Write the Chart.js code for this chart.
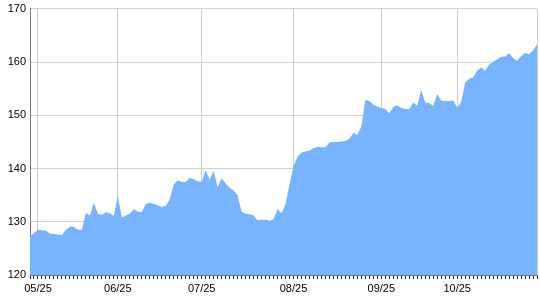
<!DOCTYPE html>
<html>
<head>
<meta charset="utf-8">
<script src="https://cdn.jsdelivr.net/npm/chart.js@4/dist/chart.umd.min.js"></script>
<style>
  html, body { margin: 0; padding: 0; background: #fff; }
  #wrap { width: 540px; height: 300px; }
</style>
</head>
<body>
<div id="wrap"><canvas id="chart"></canvas></div>
<script>
// valores (um por sessão)
const values = [
  127.2, 127.9, 128.5, 128.4, 128.3, 127.8, 127.7, 127.6, 127.5, 128.5,
  129.1, 129.0, 128.5, 128.5, 131.7, 131.2, 133.6, 131.5, 131.3, 131.8,
  131.6, 131.1, 134.9, 130.8, 131.2, 131.5, 132.4, 131.9, 131.8, 133.4,
  133.6, 133.4, 133.1, 132.8, 133.0, 134.2, 137.0, 137.8, 137.5, 137.5,
  138.3, 138.0, 137.6, 137.5, 139.7, 137.9, 139.6, 136.5, 138.2, 137.2,
  136.4, 135.9, 135.0, 131.9, 131.5, 131.4, 131.2, 130.3, 130.4, 130.4,
  130.2, 130.5, 132.4, 131.6, 133.3, 137.0, 140.4, 142.2, 143.0, 143.2,
  143.4, 143.8, 144.1, 144.0, 144.0, 144.9, 145.0, 145.0, 145.1, 145.2,
  145.6, 146.7, 146.3, 147.9, 152.9, 152.7, 152.0, 151.6, 151.4, 151.2,
  150.4, 151.6, 151.9, 151.4, 151.2, 151.2, 152.4, 151.8, 154.8, 152.4,
  152.3, 151.8, 154.0, 152.8, 152.7, 152.7, 152.8, 151.5, 152.4, 156.2,
  156.9, 157.1, 158.4, 159.0, 158.4, 159.5, 160.1, 160.5, 161.0, 161.0,
  161.7, 160.8, 160.2, 161.1, 161.7, 161.5, 162.2, 163.3
];

// rótulos do eixo x e a sessão onde cada um aparece
const tickLabels = ['05/25', '06/25', '07/25', '08/25', '09/25', '10/25'];
const tickIndex = [2, 22, 43, 66, 88, 107];

const yTicks = [120, 130, 140, 150, 160, 170];

const categories = values.map(function(v, i) {
  const k = tickIndex.indexOf(i);
  return k >= 0 ? tickLabels[k] : '';
});

const FONT = { family: 'Liberation Sans, Arial, sans-serif', size: 11 };

new Chart(document.getElementById('chart'), {
  type: 'line',
  data: {
    labels: categories,
    datasets: [{
      data: values,
      fill: 'start',
      backgroundColor: '#78b3ff',
      borderColor: '#78b3ff',
      borderWidth: 0,
      pointRadius: 0,
      tension: 0
    }]
  },
  options: {
    responsive: true,
    maintainAspectRatio: false,
    animation: false,
    layout: { padding: { top: 4, right: 1, left: 0, bottom: 0 } },
    plugins: {
      legend: { display: false },
      tooltip: { enabled: false }
    },
    scales: {
      x: {
        type: 'category',
        offset: false,
        border: { color: '#777', width: 1 },
        grid: {
          color: function(ctx) {
            const i = ctx.index;
            return (categories[i] !== '' || i === values.length - 1) ? '#cfcfcf' : 'rgba(0,0,0,0)';
          },
          tickColor: '#222',
          tickLength: 4,
          drawTicks: true
        },
        ticks: {
          autoSkip: false,
          maxRotation: 0,
          minRotation: 0,
          padding: 3,
          color: '#000',
          font: FONT,
          callback: function(val, i) { return categories[i]; }
        },
        afterFit: function(scale) { scale.height = 25; }
      },
      y: {
        min: yTicks[0],
        max: yTicks[yTicks.length - 1],
        border: { color: '#777', width: 1 },
        grid: { color: '#cfcfcf', drawTicks: false },
        ticks: {
          stepSize: 10,
          padding: 4,
          color: '#000',
          font: { family: FONT.family, size: 11, lineHeight: 0.9 }
        },
        afterFit: function(scale) { scale.width = 30; }
      }
    }
  }
});
</script>
</body>
</html>
